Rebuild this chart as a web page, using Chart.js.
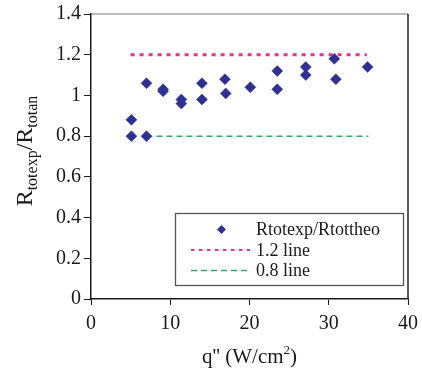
<!DOCTYPE html>
<html>
<head>
<meta charset="utf-8">
<script src="https://cdn.jsdelivr.net/npm/chart.js@4.4.1/dist/chart.umd.min.js"></script>
<style>
  html, body { margin: 0; padding: 0; background: #ffffff; }
  #wrap { width: 422px; height: 380px; position: relative; }
</style>
</head>
<body>
<div id="wrap"><canvas id="c" width="422" height="380"></canvas></div>
<script>
// Heat flux q'' (W/cm2) and measured/theoretical resistance ratio
const heatFlux = [5.1, 5.1, 7.0, 7.0, 9.1, 9.1, 11.4, 11.4, 14.0, 14.0,
                  16.9, 17.0, 20.1, 23.5, 23.5, 27.1, 27.1, 30.7, 30.9, 34.9];
const ratio    = [0.88, 0.80, 1.06, 0.80, 1.03, 1.02, 0.98, 0.96, 1.06, 0.98,
                  1.08, 1.01, 1.04, 1.12, 1.03, 1.14, 1.10, 1.18, 1.08, 1.14];

// Reference bounds (+20% / -20%)
const upperLineX = [5, 34.8];
const upperLineY = [1.2, 1.2];
const lowerLineX = [7, 35];
const lowerLineY = [0.8, 0.8];

// Axis ticks
const xTicks = [0, 10, 20, 30, 40];
const xTickLabels = ['0', '10', '20', '30', '40'];
const yTicks = [0, 0.2, 0.4, 0.6, 0.8, 1, 1.2, 1.4];
const yTickLabels = ['0', '0.2', '0.4', '0.6', '0.8', '1', '1.2', '1.4'];

const seriesLabels = ['Rtotexp/Rtottheo', '1.2 line', '0.8 line'];

const NAVY = '#2e3192';
const PINK = '#e8308c';
const GREEN = '#2eaa6a';
const INK = '#1a1a1a';
const SERIF = '"Liberation Serif", "Times New Roman", serif';

const toPoints = (xs, ys) => xs.map((x, i) => ({ x: x, y: ys[i] }));

function labelFor(values, labels) {
  return function (v) {
    for (let i = 0; i < values.length; i++) {
      if (Math.abs(values[i] - v) < 1e-6) return labels[i];
    }
    return '';
  };
}

// Outer frame: top and right edges of the plotting box
const framePlugin = {
  id: 'frame',
  beforeDatasetsDraw(chart) {
    const a = chart.chartArea, ctx = chart.ctx;
    ctx.save();
    ctx.strokeStyle = '#777';
    ctx.lineWidth = 1.2;
    ctx.beginPath();
    ctx.moveTo(a.left, a.top);
    ctx.lineTo(a.right, a.top);
    ctx.stroke();
    ctx.strokeStyle = '#222';
    ctx.lineWidth = 1.5;
    ctx.beginPath();
    ctx.moveTo(a.right, a.top);
    ctx.lineTo(a.right, a.bottom);
    ctx.stroke();
    ctx.restore();
  }
};

// Axis titles with sub/superscripts
const titlesPlugin = {
  id: 'titles',
  afterDraw(chart) {
    const ctx = chart.ctx, a = chart.chartArea;
    ctx.save();
    ctx.fillStyle = INK;
    ctx.textBaseline = 'alphabetic';

    // y title: R_totexp / R_totan, rotated
    const big = '24px ' + SERIF, small = '16px ' + SERIF;
    const parts = [
      ['R', big, 0], ['totexp', small, 5], ['/', big, 0], ['R', big, 0], ['totan', small, 5]
    ];
    let total = 0;
    parts.forEach(p => { ctx.font = p[1]; total += ctx.measureText(p[0]).width; });
    ctx.translate(32, 151);
    ctx.rotate(-Math.PI / 2);
    let x = -total / 2;
    parts.forEach(p => {
      ctx.font = p[1];
      ctx.textAlign = 'left';
      ctx.fillText(p[0], x, p[2]);
      x += ctx.measureText(p[0]).width;
    });
    ctx.setTransform(1, 0, 0, 1, 0, 0);

    // x title: q'' (W/cm^2)
    const main = '21px ' + SERIF, sup = '13px ' + SERIF;
    const xp = [["q'' (W/cm", main, 0], ['2', sup, -9], [')', main, 0]];
    total = 0;
    xp.forEach(p => { ctx.font = p[1]; total += ctx.measureText(p[0]).width; });
    x = (a.left + a.right) / 2 - total / 2;
    xp.forEach(p => {
      ctx.font = p[1];
      ctx.textAlign = 'left';
      ctx.fillText(p[0], x, 363 + p[2]);
      x += ctx.measureText(p[0]).width;
    });
    ctx.restore();
  }
};

// Boxed legend inside the plotting area
const legendPlugin = {
  id: 'boxLegend',
  afterDatasetsDraw(chart) {
    const ctx = chart.ctx;
    const bx = 175.5, by = 213.5, bw = 228, bh = 72;
    ctx.save();
    ctx.fillStyle = '#fff';
    ctx.fillRect(bx, by, bw, bh);
    ctx.strokeStyle = '#555';
    ctx.lineWidth = 1.3;
    ctx.strokeRect(bx, by, bw, bh);
    ctx.font = '18px ' + SERIF;
    ctx.textBaseline = 'middle';
    ctx.textAlign = 'left';
    const rows = [229.5, 250, 270.5];
    chart.data.datasets.forEach((ds, i) => {
      const y = rows[i];
      if (i === 0) {
        const r = 4.5;
        ctx.fillStyle = ds.backgroundColor;
        ctx.beginPath();
        ctx.moveTo(221.5, y - r);
        ctx.lineTo(221.5 + r, y);
        ctx.lineTo(221.5, y + r);
        ctx.lineTo(221.5 - r, y);
        ctx.closePath();
        ctx.fill();
      } else {
        ctx.strokeStyle = ds.borderColor;
        ctx.lineWidth = i === 1 ? 2.2 : ds.borderWidth;
        ctx.setLineDash(i === 1 ? [3.5, 4.5] : ds.borderDash);
        ctx.beginPath();
        ctx.moveTo(191, y);
        ctx.lineTo(250, y);
        ctx.stroke();
        ctx.setLineDash([]);
      }
      ctx.fillStyle = INK;
      ctx.fillText(ds.label, 256, y + 1);
    });
    ctx.restore();
  }
};

const ctx = document.getElementById('c').getContext('2d');
new Chart(ctx, {
  type: 'scatter',
  data: {
    datasets: [
      {
        label: seriesLabels[0],
        data: toPoints(heatFlux, ratio),
        pointStyle: 'rectRot',
        pointRadius: 5.5,
        backgroundColor: NAVY,
        borderColor: NAVY,
        borderWidth: 0.5,
        order: 0
      },
      {
        type: 'line',
        label: seriesLabels[1],
        data: toPoints(upperLineX, upperLineY),
        borderColor: PINK,
        borderWidth: 3,
        borderDash: [4, 5],
        borderCapStyle: 'butt',
        pointRadius: 0,
        fill: false,
        order: 2
      },
      {
        type: 'line',
        label: seriesLabels[2],
        data: toPoints(lowerLineX, lowerLineY),
        borderColor: GREEN,
        borderWidth: 1.5,
        borderDash: [6, 4],
        borderCapStyle: 'butt',
        pointRadius: 0,
        fill: false,
        order: 1
      }
    ]
  },
  options: {
    responsive: false,
    animation: false,
    events: [],
    layout: { padding: { left: 0, top: 14, right: 14, bottom: 0 } },
    plugins: {
      legend: { display: false },
      tooltip: { enabled: false },
      title: { display: false }
    },
    scales: {
      x: {
        type: 'linear',
        min: 0, max: 40,
        afterFit(scale) {
          scale.height = 81;
          scale.paddingLeft = 0;
          scale.paddingRight = 0;
        },
        afterBuildTicks(scale) { scale.ticks = xTicks.map(v => ({ value: v })); },
        ticks: {
          callback: labelFor(xTicks, xTickLabels),
          font: { family: SERIF, size: 20 },
          color: INK,
          padding: 7,
          maxRotation: 0
        },
        grid: { display: true, drawOnChartArea: false, drawTicks: true, tickLength: 6, color: INK, lineWidth: 1 },
        border: { display: true, color: INK, width: 1.5 }
      },
      y: {
        type: 'linear',
        min: 0, max: 1.4,
        afterFit(scale) {
          scale.width = 91;
          scale.paddingTop = 0;
          scale.paddingBottom = 0;
        },
        afterBuildTicks(scale) { scale.ticks = yTicks.map(v => ({ value: v })); },
        ticks: {
          callback: labelFor(yTicks, yTickLabels),
          font: { family: SERIF, size: 20 },
          color: INK,
          padding: 3
        },
        grid: { display: true, drawOnChartArea: false, drawTicks: true, tickLength: 7, color: INK, lineWidth: 1 },
        border: { display: true, color: INK, width: 1.5 }
      }
    }
  },
  plugins: [framePlugin, legendPlugin, titlesPlugin]
});
</script>
</body>
</html>
